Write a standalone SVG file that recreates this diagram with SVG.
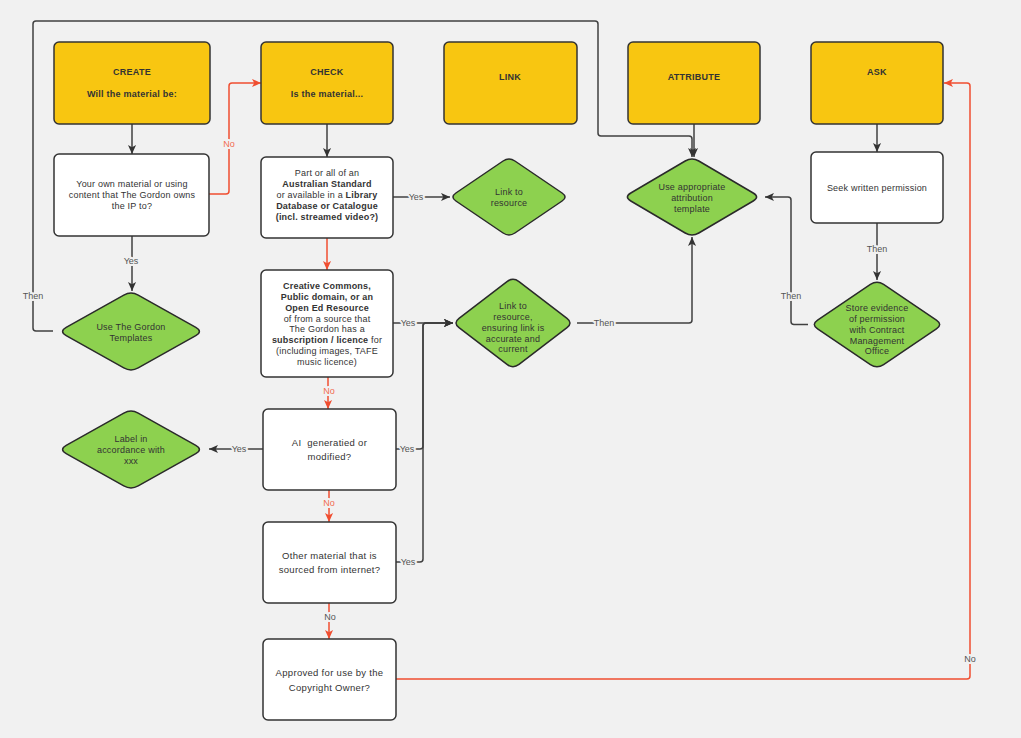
<svg xmlns="http://www.w3.org/2000/svg" width="1021" height="738" viewBox="0 0 1021 738">
<style>
.bg{fill:#F1F1F1}
.hdr{fill:#F8C611;stroke:#333;stroke-width:1.5}
.box{fill:#FFFFFF;stroke:#333;stroke-width:1.5}
.dia{fill:#8DD14F;stroke:#2A2A2A;stroke-width:1.5}
.hd{font-family:"Liberation Sans",Arial,sans-serif;font-size:9px;font-weight:bold;letter-spacing:0.25px;fill:#333;text-anchor:middle}
.t{font-family:"Liberation Sans",Arial,sans-serif;font-size:9px;letter-spacing:0.2px;fill:#333;text-anchor:middle}
.t2{font-family:"Liberation Sans",Arial,sans-serif;font-size:9.5px;letter-spacing:0.3px;fill:#333;text-anchor:middle}
.b{font-weight:bold}
.c{fill:none;stroke:#404040;stroke-width:1.5;marker-end:url(#ad)}
.r{fill:none;stroke:#F04E30;stroke-width:1.5;marker-end:url(#ar)}
.lbl{font-family:"Liberation Sans",Arial,sans-serif;font-size:9px;fill:#555;text-anchor:middle;paint-order:stroke;stroke:#F1F1F1;stroke-width:4px;stroke-linejoin:round}
.lr{fill:#F26B50}
</style>
<defs>
<marker id="ad" viewBox="0 0 10 10" refX="10" refY="5" markerWidth="9" markerHeight="9" markerUnits="userSpaceOnUse" orient="auto">
<path d="M0,0.5 L10,5 L0,9.5 L2.5,5 Z" fill="#333"/>
</marker>
<marker id="ar" viewBox="0 0 10 10" refX="10" refY="5" markerWidth="9" markerHeight="9" markerUnits="userSpaceOnUse" orient="auto">
<path d="M0,0.5 L10,5 L0,9.5 L2.5,5 Z" fill="#F04E30"/>
</marker>
</defs>
<rect class="bg" x="0" y="0" width="1021" height="738"/>

<g id="connectors">
<path class="c" d="M132,124 V154"/>
<path class="r" d="M209,194 H226 Q229,194 229,191 V86 Q229,83 232,83 H261"/>
<path class="c" d="M327,124 V157"/>
<path class="c" d="M393,197 H450"/>
<path class="r" d="M327,238 V270"/>
<path class="c" d="M393,323 H453"/>
<path class="r" d="M328,377 V409"/>
<path class="c" d="M263,449 H209"/>
<path class="c" d="M396,449 H420 Q423,449 423,446 V326 Q423,323 426,323 H453"/>
<path class="r" d="M329,490 V522"/>
<path class="c" d="M396,562 H420 Q423,562 423,559 V326 Q423,323 426,323 H453"/>
<path class="r" d="M329,603 V639"/>
<path class="r" d="M396,679 H967 Q970,679 970,676 V86 Q970,83 967,83 H944"/>
<path class="c" d="M577,323 H689 Q692,323 692,320 V237"/>
<path class="c" d="M808,324.5 H794 Q791,324.5 791,321.5 V200 Q791,197 788,197 H765"/>
<path class="c" d="M877,223 V280"/>
<path class="c" d="M877,124 V152"/>
<path class="c" d="M694,124 V157"/>
<path class="c" d="M53,331 H36 Q33,331 33,328 V24 Q33,21 36,21 H595 Q598,21 598,24 V133 Q598,136 601,136 H689 Q692,136 692,139 V157"/>
<path class="c" d="M132,236 V291"/>
<text class="lbl lr" x="229" y="147">No</text>
<text class="lbl" x="416" y="200">Yes</text>
<text class="lbl" x="408" y="326">Yes</text>
<text class="lbl lr" x="329" y="394">No</text>
<text class="lbl" x="239" y="452">Yes</text>
<text class="lbl" x="407" y="452">Yes</text>
<text class="lbl lr" x="329" y="506">No</text>
<text class="lbl" x="408" y="565">Yes</text>
<text class="lbl" x="330" y="620">No</text>
<text class="lbl" x="970" y="662">No</text>
<text class="lbl" x="604" y="326">Then</text>
<text class="lbl" x="791" y="299">Then</text>
<text class="lbl" x="877" y="252">Then</text>
<text class="lbl" x="33" y="299">Then</text>
<text class="lbl" x="131" y="264">Yes</text>
</g>

<g id="create">
<rect class="hdr" x="54" y="42" width="156" height="82" rx="5"/>
<text class="hd" x="132" y="75">CREATE</text>
<text class="hd" x="132" y="97">Will the material be:</text>
</g>
<g id="check">
<rect class="hdr" x="261" y="42" width="132" height="82" rx="5"/>
<text class="hd" x="327" y="75">CHECK</text>
<text class="hd" x="327" y="97">Is the material...</text>
</g>
<g id="link">
<rect class="hdr" x="444" y="42" width="133" height="82" rx="5"/>
<text class="hd" x="510" y="80">LINK</text>
</g>
<g id="attribute">
<rect class="hdr" x="628" y="42" width="132" height="82" rx="5"/>
<text class="hd" x="694" y="80">ATTRIBUTE</text>
</g>
<g id="ask">
<rect class="hdr" x="811" y="42" width="132" height="82" rx="5"/>
<text class="hd" x="877" y="75">ASK</text>
</g>

<g id="own-material">
<rect class="box" x="54" y="154" width="155" height="82" rx="5"/>
<text class="t" x="132" y="187">Your own material or using</text>
<text class="t" x="132" y="198">content that The Gordon owns</text>
<text class="t" x="132" y="209">the IP to?</text>
</g>
<g id="standard">
<rect class="box" x="261" y="157" width="132" height="81" rx="5"/>
<text class="t" x="327" y="176">Part or all of an</text>
<text class="t b" x="327" y="187">Australian Standard</text>
<text class="t" x="327" y="198">or available in a <tspan class="b">Library</tspan></text>
<text class="t b" x="327" y="209">Database or Catalogue</text>
<text class="t b" x="327" y="220">(incl. streamed video?)</text>
</g>
<g id="creative-commons">
<rect class="box" x="261" y="270" width="132" height="107" rx="5"/>
<text class="t b" x="327" y="289.2">Creative Commons,</text>
<text class="t b" x="327" y="300">Public domain, or an</text>
<text class="t b" x="327" y="310.8">Open Ed Resource</text>
<text class="t" x="327" y="321.6">of from a source that</text>
<text class="t" x="327" y="332.4">The Gordon has a</text>
<text class="t" x="327" y="343.2"><tspan class="b">subscription / licence</tspan> for</text>
<text class="t" x="327" y="354">(including images, TAFE</text>
<text class="t" x="327" y="364.8">music licence)</text>
</g>
<g id="ai">
<rect class="box" x="263" y="409" width="133" height="81" rx="5"/>
<text class="t2" x="329.5" y="446" xml:space="preserve">AI  generatied or</text>
<text class="t2" x="329.5" y="459.5">modified?</text>
</g>
<g id="other">
<rect class="box" x="263" y="522" width="133" height="81" rx="5"/>
<text class="t2" x="329.5" y="559">Other material that is</text>
<text class="t2" x="329.5" y="572.7">sourced from internet?</text>
</g>
<g id="approved">
<rect class="box" x="263" y="639" width="133" height="81" rx="5"/>
<text class="t2" x="329.5" y="676">Approved for use by the</text>
<text class="t2" x="329.5" y="691">Copyright Owner?</text>
</g>
<g id="seek">
<rect class="box" x="811" y="152" width="132" height="71" rx="5"/>
<text class="t" x="877" y="191">Seek written permission</text>
</g>

<g id="link-resource">
<path class="dia" d="M514.9,161 L562.1,193 Q568,197 562.1,201 L514.9,233 Q509,237 503.1,233 L455.9,201 Q450,197 455.9,193 L503.1,161 Q509,157 514.9,161 Z"/>
<text class="t" x="509" y="195">Link to</text>
<text class="t" x="509" y="206">resource</text>
</g>
<g id="link-ensure">
<path class="dia" d="M519,281.6 L567,318.4 Q573,323 567,327.6 L519,364.4 Q513,369 507,364.4 L459,327.6 Q453,323 459,318.4 L507,281.6 Q513,277 519,281.6 Z"/>
<text class="t" x="513" y="309">Link to</text>
<text class="t" x="513" y="320">resource,</text>
<text class="t" x="513" y="331">ensuring link is</text>
<text class="t" x="513" y="341.5">accurate and</text>
<text class="t" x="513" y="352.3">current</text>
</g>
<g id="attribution-template">
<path class="dia" d="M698.8,161 L753.2,193 Q760,197 753.2,201 L698.8,233 Q692,237 685.2,233 L630.8,201 Q624,197 630.8,193 L685.2,161 Q692,157 698.8,161 Z"/>
<text class="t" x="692" y="190">Use appropriate</text>
<text class="t" x="692" y="201">attribution</text>
<text class="t" x="692" y="211.5">template</text>
</g>
<g id="store-evidence">
<path class="dia" d="M883.6,284.45 L936.4,320.05 Q943,324.5 936.4,328.95 L883.6,364.55 Q877,369 870.4,364.55 L817.6,328.95 Q811,324.5 817.6,320.05 L870.4,284.45 Q877,280 883.6,284.45 Z"/>
<text class="t" x="877" y="311">Store evidence</text>
<text class="t" x="877" y="322">of permission</text>
<text class="t" x="877" y="333">with Contract</text>
<text class="t" x="877" y="343.5">Management</text>
<text class="t" x="877" y="354">Office</text>
</g>
<g id="gordon-templates">
<path class="dia" d="M138.2,295.05 L195.8,327.45 Q203,331.5 195.8,335.55 L138.2,367.95 Q131,372 123.8,367.95 L66.2,335.55 Q59,331.5 66.2,327.45 L123.8,295.05 Q131,291 138.2,295.05 Z"/>
<text class="t" x="131" y="330">Use The Gordon</text>
<text class="t" x="131" y="340.5">Templates</text>
</g>
<g id="label-ai">
<path class="dia" d="M138.2,413.05 L195.8,445.45 Q203,449.5 195.8,453.55 L138.2,485.95 Q131,490 123.8,485.95 L66.2,453.55 Q59,449.5 66.2,445.45 L123.8,413.05 Q131,409 138.2,413.05 Z"/>
<text class="t" x="131" y="442">Label in</text>
<text class="t" x="131" y="453">accordance with</text>
<text class="t" x="131" y="464">xxx</text>
</g>
</svg>
